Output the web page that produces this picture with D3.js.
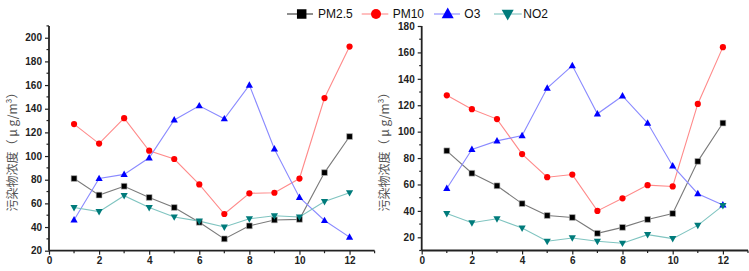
<!DOCTYPE html>
<html><head><meta charset="utf-8">
<script src="https://cdn.jsdelivr.net/npm/d3@7"></script>
<style>
html,body{margin:0;padding:0;background:#fff;}
svg{display:block;}
</style></head>
<body>
<svg id="chart" width="749" height="271"></svg>
<script>
const months = [1,2,3,4,5,6,7,8,9,10,11,12];
const seriesNames = ["PM2.5","PM10","O3","NO2"];

// Left panel
const leftPM25 = [81,67,74.5,65,56.5,44,30,41,46,46.5,86,116.5];
const leftPM10 = [127,110.5,132,104.5,97.5,76,51,68.5,69,81,149,192.5];
const leftO3   = [46,81,84.5,98.5,130.5,142.5,131.5,160,106,65,45.5,31.5];
const leftNO2  = [56.5,53,66.5,56.5,48.5,45,40,47,49.5,48.5,61.5,69];

// Right panel
const rightPM25 = [85.5,68.5,59,45.5,36.5,35,23,27.5,33.5,38,77.5,106.5];
const rightPM10 = [127.5,117,109.5,83,65.5,67.5,40,49.5,59.5,58.5,121,164];
const rightO3   = [57,86.5,93,97,133,150,113.5,127,106.5,74,53,44.5];
const rightNO2  = [38,31,34,27,17,19.5,17,15.5,22,19,29,44];

const xTicks = [0,2,4,6,8,10,12];
const leftYTicks = [20,40,60,80,100,120,140,160,180,200];
const rightYTicks = [20,40,60,80,100,120,140,160,180];
const yTitle = "污染物浓度（ μ g/m³）";

const styles = {
  "PM2.5": {marker:"square", fill:"#000000", line:"#7a7a7a"},
  "PM10":  {marker:"circle", fill:"#ff0000", line:"#ff8a8a"},
  "O3":    {marker:"triangle", fill:"#0000ff", line:"#8a8aff"},
  "NO2":   {marker:"triangleDown", fill:"#007b7b", line:"#7fc4c0"}
};

const svg = d3.select("#chart");
const FONT = "'Liberation Sans', Arial, sans-serif";

function markerPath(type, s){
  if(type==="square") return d3.symbol(d3.symbolSquare, s*s)();
  if(type==="circle") return d3.symbol(d3.symbolCircle, Math.PI*(s/2)*(s/2))();
  const h = s*0.9, w = s;
  if(type==="triangle") return `M0,${-h*0.6}L${w/2},${h*0.4}L${-w/2},${h*0.4}Z`;
  return `M0,${h*0.6}L${w/2},${-h*0.4}L${-w/2},${-h*0.4}Z`;
}

function panel(cfg){
  const x = d3.scaleLinear().domain([0,13]).range([cfg.x0, cfg.x1]);
  const y = d3.scaleLinear().domain(cfg.yDomain).range([cfg.yBottom, cfg.yTop]);
  const g = svg.append("g");

  // y axis
  const yAxis = d3.axisLeft(y).tickValues(cfg.yTicks).tickSize(4).tickPadding(3).tickFormat(d3.format("d"));
  const ya = g.append("g").attr("transform",`translate(${cfg.x0},0)`).call(yAxis);
  const minorY = d3.range(cfg.yDomain[0], cfg.yDomain[1]+0.1, 10).filter(v=>cfg.yTicks.indexOf(v)<0);
  g.append("g").selectAll("line").data(minorY).join("line")
    .attr("x1",cfg.x0-2.5).attr("x2",cfg.x0).attr("y1",d=>y(d)).attr("y2",d=>y(d))
    .attr("stroke","#222").attr("stroke-width",1.2);

  // x axis
  const xAxis = d3.axisBottom(x).tickValues(xTicks).tickSize(4).tickPadding(2).tickFormat(d3.format("d"));
  const xa = g.append("g").attr("transform",`translate(0,${cfg.yBottom})`).call(xAxis);
  const minorX = d3.range(1,14,2);
  g.append("g").selectAll("line").data(minorX).join("line")
    .attr("x1",d=>x(d)).attr("x2",d=>x(d)).attr("y1",cfg.yBottom).attr("y2",cfg.yBottom+2.5)
    .attr("stroke","#222").attr("stroke-width",1.2);

  [ya,xa].forEach(a=>{
    a.select(".domain").attr("stroke","#222").attr("stroke-width",1.8);
    a.selectAll(".tick line").attr("stroke","#222").attr("stroke-width",1.2);
    a.selectAll("text").attr("font-family",FONT).attr("font-size","10px").attr("font-weight","bold").attr("fill","#222");
  });
  ya.select(".domain").attr("d",`M0,${cfg.yBottom}V${cfg.yTop}`);
  xa.select(".domain").attr("d",`M${cfg.x0},0H${cfg.x1}`);

  // title
  g.append("text")
    .attr("transform",`translate(${cfg.titleX},${cfg.titleY}) rotate(-90)`)
    .attr("text-anchor","middle").attr("dominant-baseline","central")
    .attr("font-family","'Noto Sans CJK SC', sans-serif").attr("font-size","12px")
    .attr("fill","#555").text(yTitle);

  const data = {"PM2.5":cfg.pm25,"PM10":cfg.pm10,"O3":cfg.o3,"NO2":cfg.no2};
  const line = d3.line().x((d,i)=>x(months[i])).y(d=>y(d));
  seriesNames.forEach(n=>{
    g.append("path").datum(data[n]).attr("d",line).attr("fill","none")
      .attr("stroke",styles[n].line).attr("stroke-width",1.1);
  });
  seriesNames.forEach(n=>{
    const st = styles[n];
    g.append("g").selectAll("path").data(data[n]).join("path")
      .attr("transform",(d,i)=>`translate(${x(months[i])},${y(d)})`)
      .attr("d",markerPath(st.marker, st.marker==="circle"?6.2:(st.marker==="square"?5.8:7.2)))
      .attr("fill",st.fill)
      .attr("stroke",st.marker==="square"?"#bbb":"none").attr("stroke-width",0.6);
  });
}

panel({x0:49, x1:374.6, yBottom:250.7, yTop:25.9, yDomain:[20,210], yTicks:leftYTicks,
  titleX:11, titleY:149, pm25:leftPM25, pm10:leftPM10, o3:leftO3, no2:leftNO2});
panel({x0:421.7, x1:748, yBottom:250.5, yTop:26, yDomain:[10,180], yTicks:rightYTicks,
  titleX:383, titleY:149, pm25:rightPM25, pm10:rightPM10, o3:rightO3, no2:rightNO2});

// legend
const legendItems = [
  {name:"PM2.5", lx0:287, lx1:313, mx:301.7, tx:318},
  {name:"PM10",  lx0:361.7, lx1:388.3, mx:376, tx:392.7},
  {name:"O3",    lx0:434, lx1:460, mx:447.7, tx:464.3},
  {name:"NO2",   lx0:494, lx1:521.7, mx:507.7, tx:523.3}
];
const lg = svg.append("g");
legendItems.forEach(it=>{
  const st = styles[it.name];
  lg.append("line").attr("x1",it.lx0).attr("x2",it.lx1).attr("y1",14).attr("y2",14)
    .attr("stroke",st.line==="#7a7a7a"?"#333":st.line).attr("stroke-width",1.1);
  lg.append("path").attr("transform",`translate(${it.mx},14)`)
    .attr("d",markerPath(st.marker, st.marker==="circle"?10:(st.marker==="square"?9.5:12)))
    .attr("fill",st.fill);
  lg.append("text").attr("x",it.tx).attr("y",14).attr("dominant-baseline","central")
    .attr("font-family",FONT).attr("font-size","12px").attr("fill","#111").text(it.name);
});
</script>
</body></html>
